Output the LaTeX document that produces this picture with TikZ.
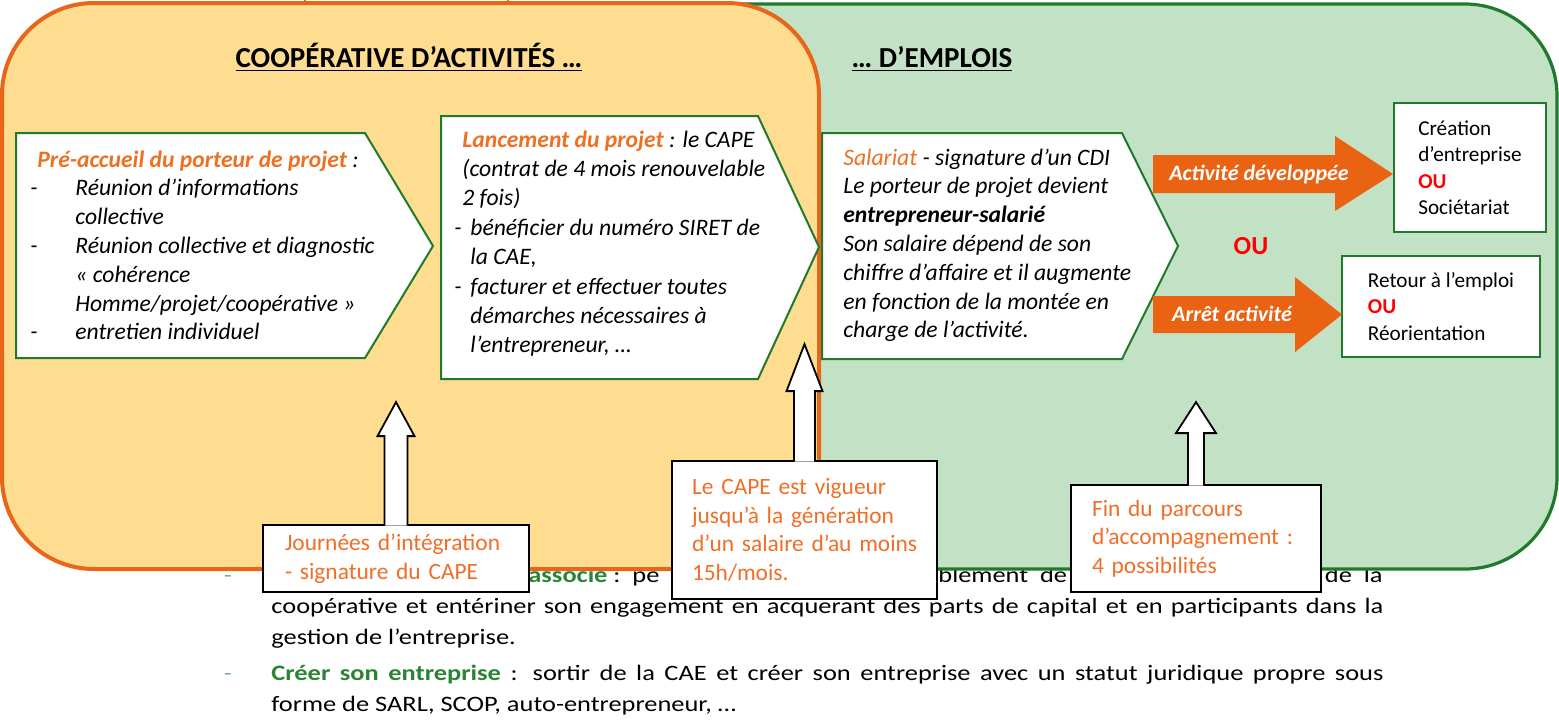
\documentclass[tikz,border=0pt]{standalone}
\usepackage{fontspec}
\setmainfont{Carlito}
\newfontfamily\docfont[FakeStretch=1.2]{Carlito}
\usetikzlibrary{calc}
\definecolor{yfill}{HTML}{FEDD90}
\definecolor{gfill}{HTML}{C3E1C4}
\definecolor{orline}{HTML}{E8661A}
\definecolor{dkgreen}{HTML}{1F7A2C}
\definecolor{hdorange}{HTML}{EE7022}
\definecolor{callor}{HTML}{F06E27}
\definecolor{arrowor}{HTML}{E96313}
\definecolor{docgreen}{HTML}{2A8434}
\definecolor{dashgreen}{HTML}{7FB07F}
\definecolor{ured}{HTML}{FF0000}
\newcommand\vlines[1]{\begin{tabular}[t]{@{}l@{}}#1\end{tabular}}
\tikzset{
  zoneY/.style={draw=orline, fill=yfill, line width=2pt, rounded corners=46pt},
  zoneG/.style={draw=dkgreen, fill=gfill, line width=1.6pt, rounded corners=46pt},
  chev/.style={draw=dkgreen, line width=1pt, fill=white, line join=miter},
  boxtxt/.style={inner sep=0pt, anchor=base west, font=\fontsize{11.8}{14.4}\selectfont\itshape},
  endbox/.style={draw=dkgreen, line width=1.4pt, fill=white, align=left, font=\fontsize{10.6}{13.25}\selectfont, inner sep=0pt},
  callout/.style={draw=black, line width=0.9pt, fill=white, font=\fontsize{11.7}{14.3}\selectfont\color{callor}, align=left, inner ysep=0pt},
  hollow/.style={draw=black, line width=0.9pt, fill=white, line join=miter},
  arrlabel/.style={inner sep=0pt, text=white, font=\fontsize{11}{13}\selectfont\bfseries\itshape},
  doc/.style={inner sep=0pt, font=\docfont\fontsize{11}{13}\selectfont},
  heading/.style={inner sep=0pt, font=\fontsize{14.5}{16}\selectfont\bfseries},
  ou/.style={inner sep=0pt, text=ured, font=\fontsize{13}{15}\selectfont\bfseries},
}
\begin{document}
\begin{tikzpicture}[x=0.5pt,y=-0.5pt]
\useasboundingbox (0,0) rectangle (1559,720);
\fill[white] (0,0) rectangle (1559,720);

% ---- document text behind the diagram
\node[doc, anchor=base, text=dashgreen] (b1) at (228,582) {-};
\node[doc, anchor=base west] (d1a) at (528,582) {\textcolor{docgreen}{\textbf{associé}}\ :\ \ pe};
\node[doc, anchor=base west] (d1b) at (938,582) {blement\ \ de};
\node[doc, anchor=base east] (d1c) at (1383,582) {de\ \ la};
\node[doc, anchor=base west] (d2) at (271,613) {\makebox[556pt][s]{coopérative et entériner son engagement en acquerant des parts de capital et en participants dans la}};
\node[doc, anchor=base west] (d3) at (271,644) {gestion de l’entreprise.};
\node[doc, anchor=base, text=dashgreen] (b2) at (228,680) {-};
\node[doc, anchor=base west] (d4) at (271,680) {\makebox[556pt][s]{\textcolor{docgreen}{\textbf{Créer son entreprise}} : sortir de la CAE et créer son entreprise avec un statut juridique propre sous}};
\node[doc, anchor=base west] (d5) at (271,711) {forme de SARL, SCOP, auto-entrepreneur, …};

% ---- the two zones
\draw[zoneG] (600,4) rectangle (1557,569);
\draw[zoneY] (2,3) rectangle (819,569);
\draw[orline, line width=0.6pt] (305,0) -- (305,3);
\draw[orline, line width=0.6pt] (508,0) -- (508,3);

\node[heading, anchor=base] (h1) at (409,67) {\underline{COOPÉRATIVE D’ACTIVITÉS …}};
\node[heading, anchor=base] (h2) at (932,67) {\underline{… D’EMPLOIS}};

% ---- chevrons
\draw[chev] (16,133) -- (365,133) -- (433,246) -- (365,358) -- (16,358) -- cycle;
\draw[chev] (441,116) -- (758,116) -- (819,247) -- (758,379) -- (441,379) -- cycle;
\draw[chev] (822,133) -- (1122,133) -- (1178,246) -- (1122,359) -- (822,359) -- cycle;

\node[boxtxt] (t1) at (30,167) {\vlines{%
\hspace*{3.5pt}\textcolor{hdorange}{\textbf{Pré-accueil du porteur de projet}} :\\
\makebox[22.5pt][l]{-}Réunion d’informations\\
\hspace*{22.5pt}collective\\
\makebox[22.5pt][l]{-}Réunion collective et diagnostic\\
\hspace*{22.5pt}« cohérence\\
\hspace*{22.5pt}Homme/projet/coopérative »\\
\makebox[22.5pt][l]{-}entretien individuel}};

\node[boxtxt, font=\fontsize{11.8}{14.7}\selectfont\itshape] (t2) at (454,147) {\vlines{%
\hspace*{4pt}\textcolor{hdorange}{\textbf{Lancement du projet}} : le CAPE\\
\hspace*{4pt}(contrat de 4 mois renouvelable\\
\hspace*{4pt}2 fois)\\
\makebox[8pt][l]{-}bénéficier du numéro SIRET de\\
\hspace*{8pt}la CAE,\\
\makebox[8pt][l]{-}facturer et effectuer toutes\\
\hspace*{8pt}démarches nécessaires à\\
\hspace*{8pt}l’entrepreneur, …}};

\node[boxtxt] (t3) at (843,165) {\vlines{%
\textcolor{hdorange}{Salariat} - signature d’un CDI\\
Le porteur de projet devient\\
\textbf{entrepreneur-salarié}\\
Son salaire dépend de son\\
chiffre d’affaire et il augmente\\
en fonction de la montée en\\
charge de l’activité.}};

% ---- outcome boxes
\node[endbox, minimum width=76pt, minimum height=64.5pt] (cre) at (1470,167.5) {Création\\d’entreprise\\\textcolor{ured}{\textbf{OU}}\\Sociétariat};
\node[endbox, minimum width=99pt, minimum height=50.5pt] (ret) at (1441,306.5) {Retour à l’emploi\\\textcolor{ured}{\textbf{OU}}\\Réorientation};

% ---- orange arrows
\coordinate (aA) at (1393,174);
\coordinate (aB) at (1342,314.5);
\fill[arrowor] (1153,155) -- (1335,155) -- (1335,136) -- (aA) -- (1335,211) -- (1335,193) -- (1153,193) -- cycle;
\fill[arrowor] (1153,296) -- (1295,296) -- (1295,277) -- (aB) -- (1295,352) -- (1295,333) -- (1153,333) -- cycle;
\node[arrlabel] (la) at (1259,174) {Activité développée};
\node[arrlabel] (lb) at (1232,314) {Arrêt activité};
\node[ou] (ou) at (1251,246) {OU};

% ---- callouts
\node[callout, minimum width=133pt, minimum height=33.5pt, text width=111pt, inner xsep=11pt] (jour) at (396,558.5) {Journées d’intégration\\- signature du CAPE};
\node[callout, minimum width=132.5pt, minimum height=69pt, text width=112.5pt, inner xsep=10pt] (cape) at (804.5,530) {\makebox[112.5pt][s]{Le CAPE est vigueur}\\\makebox[112.5pt][s]{jusqu’à la génération}\\\makebox[112.5pt][s]{d’un salaire d’au moins}\\15h/mois.};
\node[callout, minimum width=125pt, minimum height=53.5pt, text width=104pt, inner xsep=10.5pt] (fin) at (1196,538.5) {\makebox[104pt][s]{Fin du parcours}\\\makebox[104pt][s]{d’accompagnement :}\\4 possibilités};

% ---- hollow arrows
\draw[hollow] ($(jour.north)+(-11.5,1.5)$) -- ++(0,-89.5) -- ++(-7,0) -- ++(18.5,-34) -- ++(18.5,34) -- ++(-7,0) -- ++(0,89.5);
\draw[hollow] ($(cape.north)+(-10.5,1.5)$) -- ++(0,-70.5) -- ++(-7.5,0) -- ++(18,-47) -- ++(18,47) -- ++(-7.5,0) -- ++(0,70.5);
\draw[hollow] ($(fin.north)+(-8,1.5)$) -- ++(0,-52.5) -- ++(-12,0) -- ++(20,-31) -- ++(20,31) -- ++(-12,0) -- ++(0,52.5);
\end{tikzpicture}
\end{document}
